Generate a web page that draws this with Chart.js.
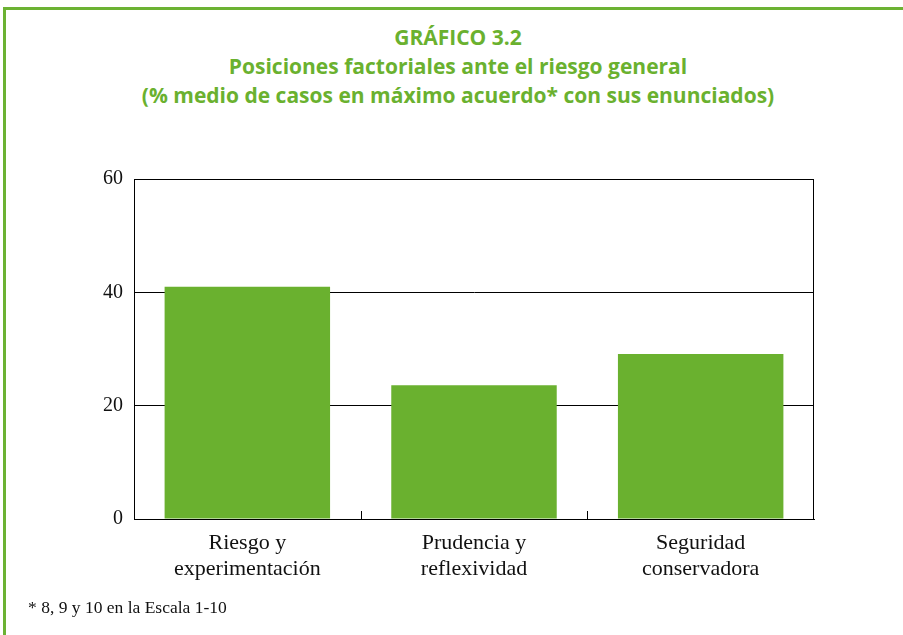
<!DOCTYPE html>
<html>
<head>
<meta charset="utf-8">
<script src="https://cdn.jsdelivr.net/npm/chart.js@4"></script>
<style>
    body { margin: 0; background: #fff; }
    #marco {
        position: absolute; left: 3px; top: 7px; width: 900px; height: 640px;
        border-left: 3px solid #6cb233; border-top: 3px solid #6cb233;
    }
    #titulo {
        position: absolute; left: 0; top: 23px; width: 916px; text-align: center;
        font-family: "Open Sans", sans-serif; font-weight: bold; font-size: 21px;
        line-height: 29px; color: #6ab12f;
    }
    #nota {
        position: absolute; left: 28px; top: 597px;
        font-family: "Liberation Serif", serif; font-size: 17.5px; color: #111;
    }
    #lienzo { position: absolute; left: 0; top: 0; }
</style>
</head>
<body>
<div id="marco"></div>
<div id="titulo">GRÁFICO 3.2<br>Posiciones factoriales ante el riesgo general<br>(% medio de casos en máximo acuerdo* con sus enunciados)</div>
<canvas id="lienzo" width="903" height="635"></canvas>
<div id="nota">* 8, 9 y 10 en la Escala 1-10</div>
<script>
// datos
const categorias = [["Riesgo y", "experimentación"], ["Prudencia y", "reflexividad"], ["Seguridad", "conservadora"]];
const valores = [41, 23.6, 29.1];
const ticksY = [0, 20, 40, 60];

const VERDE = "#6ab12f";
const serif = "'Liberation Serif', 'Times New Roman', serif";

// marco del área de gráfico + marcas interiores entre categorías
const marcoPlot = {
    id: "marcoPlot",
    afterDatasetsDraw(chart) {
        const { ctx, chartArea: a, scales } = chart;
        ctx.save();
        ctx.strokeStyle = "#000";
        ctx.lineWidth = 1;
        ctx.strokeRect(a.left + 0.5, a.top + 0.5, a.right - a.left - 1, a.bottom - a.top);
        for (let i = 0; i < categorias.length - 1; i++) {
            const x = Math.round((scales.x.getPixelForValue(i) + scales.x.getPixelForValue(i + 1)) / 2) + 0.5;
            ctx.beginPath();
            ctx.moveTo(x, a.bottom);
            ctx.lineTo(x, a.bottom - 8);
            ctx.stroke();
        }
        ctx.restore();
    }
};

new Chart(document.getElementById("lienzo"), {
    type: "bar",
    data: {
        labels: categorias,
        datasets: [{
            data: valores,
            backgroundColor: VERDE,
            borderWidth: 0,
            barPercentage: 0.73,
            categoryPercentage: 1,
        }],
    },
    options: {
        responsive: false,
        animation: false,
        layout: { padding: { top: 179, right: 89, bottom: 46, left: 0 } },
        plugins: { legend: { display: false }, tooltip: { enabled: false } },
        scales: {
            x: {
                grid: { display: false },
                border: { color: "#000" },
                ticks: { color: "#111", font: { family: serif, size: 22, lineHeight: 1.18 }, padding: 3, maxRotation: 0 },
                afterFit: (s) => { s.height = 70; },
            },
            y: {
                min: 0, max: 60,
                afterBuildTicks: (s) => { s.ticks = ticksY.map((v) => ({ value: v })); },
                grid: { color: "#000", drawTicks: false, lineWidth: 1 },
                border: { color: "#000" },
                ticks: { color: "#111", font: { family: serif, size: 20 }, padding: 11 },
                afterFit: (s) => { s.width = 134; },
            },
        },
    },
    plugins: [marcoPlot],
});
</script>
</body>
</html>
